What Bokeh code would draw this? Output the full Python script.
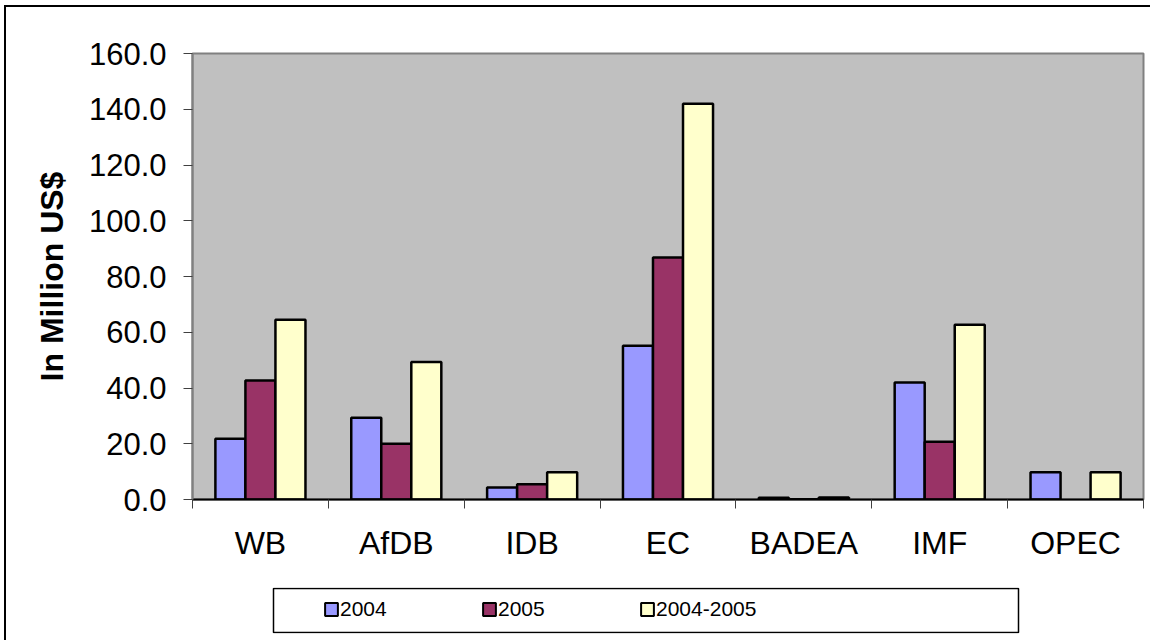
from bokeh.plotting import figure
from bokeh.layouts import column
from bokeh.models import (ColumnDataSource, Range1d, FixedTicker, NumeralTickFormatter,
                          Legend, LegendItem)
from bokeh.transform import dodge
from bokeh.embed import file_html
from bokeh.resources import INLINE

# ---- data ----
categories = ["WB", "AfDB", "IDB", "EC", "BADEA", "IMF", "OPEC"]
v2004 = [21.8, 29.3, 4.3, 55.2, 0.6, 42.0, 9.8]
v2005 = [42.7, 20.0, 5.5, 86.8, 0.1, 20.7, float("nan")]
v0405 = [64.5, 49.3, 9.8, 142.0, 0.7, 62.7, 9.8]
series_names = ["2004", "2005", "2004-2005"]
series_colors = ["#9999FF", "#993366", "#FFFFCC"]
y_ticks = [0, 20, 40, 60, 80, 100, 120, 140, 160]

FONT = "Liberation Sans"
W = 1144
BL, BR = 186, 7
FW = W - BL - BR

xs = [i + 0.5 for i in range(len(categories))]
src = ColumnDataSource(dict(x=xs, cat=categories, a=v2004, b=v2005, c=v0405))

p = figure(width=W, height=568, output_backend="svg", toolbar_location=None,
           x_range=Range1d(0, len(categories)), y_range=Range1d(0, 160),
           min_border_left=BL, min_border_right=BR, min_border_top=46, min_border_bottom=76)

p.background_fill_color = "#C0C0C0"
p.border_fill_color = "white"
p.outline_line_color = "#808080"
p.outline_line_width = 2
p.xgrid.visible = False
p.ygrid.visible = False

bw = 0.221
for col, off, color in zip(["a", "b", "c"], [-bw, 0, bw], series_colors):
    p.vbar(x=dodge("x", off, range=p.x_range), top=col, width=bw, bottom=0, source=src,
           fill_color=color, line_color="black", line_width=2.5)

# x axis
xa = p.xaxis[0]
xa.ticker = FixedTicker(ticks=xs, minor_ticks=list(range(len(categories) + 1)))
xa.major_label_overrides = {x: c for x, c in zip(xs, categories)}
xa.major_tick_line_color = None
xa.minor_tick_in = 0
xa.minor_tick_out = 9
xa.minor_tick_line_color = "#404040"
xa.axis_line_color = "black"
xa.axis_line_width = 2
xa.major_label_text_font = FONT
xa.major_label_text_font_size = "32px"
xa.major_label_text_color = "black"
xa.major_label_standoff = 16

# y axis
ya = p.yaxis[0]
ya.ticker = FixedTicker(ticks=y_ticks)
ya.formatter = NumeralTickFormatter(format="0.0")
ya.major_tick_in = 0
ya.major_tick_out = 9
ya.major_tick_line_color = "#404040"
ya.minor_tick_line_color = None
ya.axis_line_color = "#808080"
ya.axis_line_width = 2
ya.major_label_text_font = FONT
ya.major_label_text_font_size = "31px"
ya.major_label_text_color = "black"
ya.major_label_standoff = 17
ya.axis_label = "In Million US$"
ya.axis_label_text_font = FONT
ya.axis_label_text_font_size = "32px"
ya.axis_label_text_font_style = "bold"
ya.axis_label_text_color = "black"
ya.axis_label_standoff = 16

# legend row: a strip whose frame lines up with the chart frame (1 data unit = 1 px)
p2 = figure(width=W, height=65, output_backend="svg", toolbar_location=None,
            x_range=Range1d(0, FW), y_range=Range1d(0, 46),
            x_axis_location=None, y_axis_location=None,
            min_border_left=BL, min_border_right=BR, min_border_top=12, min_border_bottom=7)
p2.outline_line_color = None
p2.background_fill_color = "white"
p2.border_fill_color = "white"
p2.grid.visible = False

# legend box
p2.quad(left=[81], right=[826], bottom=[1], top=[45], fill_color="white",
        line_color="black", line_width=1.5)

items = []
for name, color in zip(series_names, series_colors):
    r = p2.vbar(x=[float("nan")], top=[float("nan")], width=5,
                fill_color=color, line_color="black", line_width=2)
    items.append(LegendItem(label=name, renderers=[r]))

legend = Legend(items=items, orientation="horizontal", location=(131, 12),
                glyph_width=16, glyph_height=16, label_standoff=1, label_width=141,
                label_height=22, spacing=0, padding=0, margin=0,
                border_line_color=None, background_fill_alpha=0,
                label_text_font=FONT, label_text_font_size="21px", label_text_color="black")
p2.add_layout(legend, "center")

layout = column(p, p2, spacing=0,
                styles={"margin-left": "4px", "margin-top": "5px",
                        "border-left": "2px solid black", "border-top": "2px solid black"})

open("out.html", "w").write(file_html(layout, INLINE))
